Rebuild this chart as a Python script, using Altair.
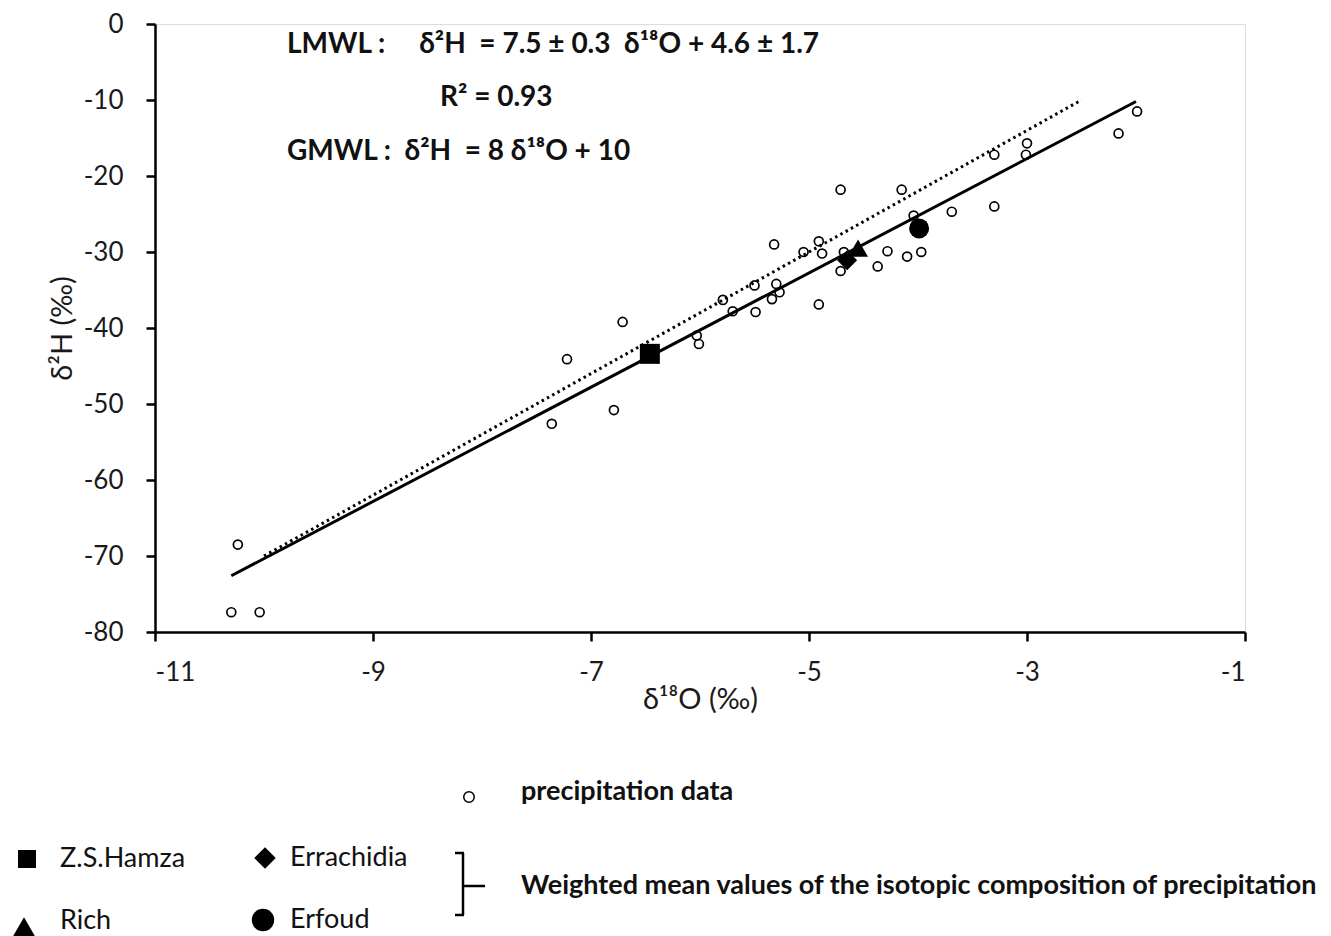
import altair as alt
import pandas as pd

FONT = "Lato"
NB = "\u00a0"

# precipitation samples (delta18O, delta2H)
precip_x = [-10.24, -10.30, -10.04, -7.36, -7.22, -6.79, -6.71, -6.03, -6.01, -5.79,
            -5.70, -5.49, -5.50, -5.32, -5.30, -5.27, -5.34, -5.05, -4.91, -4.88,
            -4.91, -4.71, -4.68, -4.71, -4.37, -4.28, -4.15, -4.10, -4.04, -3.97,
            -3.69, -3.30, -3.30, -3.00, -3.01, -2.16, -1.99]
precip_y = [-68.5, -77.4, -77.4, -52.6, -44.1, -50.8, -39.2, -41.0, -42.1, -36.3,
            -37.8, -37.9, -34.4, -29.0, -34.2, -35.3, -36.2, -30.0, -28.6, -30.2,
            -36.9, -21.8, -30.0, -32.5, -31.9, -29.9, -21.8, -30.6, -25.2, -30.0,
            -24.7, -17.2, -24.0, -15.7, -17.2, -14.4, -11.5]

# weighted means per station
site_names = ["Z.S.Hamza", "Errachidia", "Rich", "Erfoud"]
site_x = [-6.46, -4.65, -4.55, -3.99]
site_y = [-43.4, -31.1, -29.5, -26.9]
site_shapes = ["square", "diamond", "triangle-up", "circle"]

# meteoric water lines (end points)
lmwl_x = [-10.3, -2.0]
lmwl_y = [-72.6, -10.2]
gmwl_x = [-10.0, -2.5]
gmwl_y = [-70.0, -10.0]

x_ticks = [-11, -9, -7, -5, -3, -1]
y_ticks = [0, -10, -20, -30, -40, -50, -60, -70, -80]

ann_lmwl = "LMWL :     δ²H  = 7.5 ± 0.3  δ¹⁸O + 4.6 ± 1.7".replace(" ", NB)
ann_r2 = "R² = 0.93".replace(" ", NB)
ann_gmwl = "GMWL :  δ²H  = 8 δ¹⁸O + 10".replace(" ", NB)
legend_precip = "precipitation data"
legend_weighted = "Weighted mean values of the isotopic composition of precipitation"

xs = alt.Scale(domain=[-11, -1], nice=False, zero=False)
ys = alt.Scale(domain=[-80, 0], nice=False, zero=False)

axis_common = dict(grid=False, domainColor="black", domainWidth=2.5, tickColor="black",
                   tickWidth=2.5, tickSize=9, labelFont=FONT, labelFontSize=26,
                   labelColor="#1a1a1a", titleFont=FONT, titleFontSize=29,
                   titleFontWeight="normal", titleColor="#1a1a1a",
                   labelExpr="'' + datum.value")

xaxis = alt.Axis(values=x_ticks, title="δ¹⁸O (‰)", labelPadding=18, titlePadding=0,
                 **axis_common)
yaxis = alt.Axis(values=y_ticks, title="δ²H (‰)", labelPadding=23, titlePadding=6,
                 **axis_common)

precip_df = pd.DataFrame({"x": precip_x, "y": precip_y})
site_df = pd.DataFrame({"x": site_x, "y": site_y, "site": site_names, "shape": site_shapes})
lmwl_df = pd.DataFrame({"x": lmwl_x, "y": lmwl_y})
gmwl_df = pd.DataFrame({"x": gmwl_x, "y": gmwl_y})

lmwl = alt.Chart(lmwl_df).mark_line(color="black", strokeWidth=3).encode(
    x=alt.X("x:Q", scale=xs, axis=xaxis),
    y=alt.Y("y:Q", scale=ys, axis=yaxis),
)
gmwl = alt.Chart(gmwl_df).mark_line(color="black", strokeWidth=3, strokeDash=[2.5, 3.5]).encode(
    x=alt.X("x:Q", scale=xs), y=alt.Y("y:Q", scale=ys)
)
precip = alt.Chart(precip_df).mark_point(shape="circle", size=80, filled=False, color="black",
                                         strokeWidth=1.7, opacity=1).encode(
    x=alt.X("x:Q", scale=xs), y=alt.Y("y:Q", scale=ys)
)
sites = alt.Chart(site_df).mark_point(filled=True, color="black", opacity=1).encode(
    x=alt.X("x:Q", scale=xs), y=alt.Y("y:Q", scale=ys),
    shape=alt.Shape("shape:N", scale=None),
    size=alt.value(400),
)

one = pd.DataFrame({"k": [0]})


def txt(s, px, py, size=27, weight="normal"):
    return alt.Chart(one).mark_text(text=s, fontSize=size, fontWeight=weight, align="left",
                                    baseline="middle", font=FONT, color="#111111").encode(
        x=alt.value(px), y=alt.value(py))


def sym(shape, px, py, size, filled=True):
    return alt.Chart(one).mark_point(shape=shape, size=size, filled=filled, color="black",
                                     opacity=1, strokeWidth=1.5).encode(
        x=alt.value(px), y=alt.value(py))


def rule(x1, y1, x2, y2):
    return alt.Chart(one).mark_rule(color="black", strokeWidth=2.5).encode(
        x=alt.value(x1), y=alt.value(y1), x2=alt.value(x2), y2=alt.value(y2))


layers = [lmwl, gmwl, precip, sites,
          txt(ann_lmwl, 132, 21, 28, "bold"),
          txt(ann_r2, 285, 74, 28, "bold"),
          txt(ann_gmwl, 132, 128, 28, "bold"),
          sym("circle", 314, 773, 110, filled=False),
          txt(legend_precip, 366, 768, 27, "bold"),
          sym("square", -128, 835, 324),
          txt(site_names[0], -95, 835, 27),
          sym("triangle-up", -131, 904, 620),
          txt(site_names[2], -95, 897, 27),
          sym("diamond", 110, 834, 460),
          txt(site_names[1], 135, 834, 27),
          sym("circle", 108, 896, 500),
          txt(site_names[3], 135, 896, 27),
          rule(308, 829, 308, 891),
          rule(300, 829, 309, 829),
          rule(300, 891, 309, 891),
          rule(308, 862, 330, 862),
          txt(legend_weighted, 366, 862, 27, "bold"),
          ]

chart = alt.layer(*layers).properties(
    width=1090, height=608,
    autosize=alt.AutoSizeParams(type="none"),
    padding={"left": 147, "top": 16, "right": 76, "bottom": 306},
).configure_view(stroke=None).configure(background="white")

chart.save("out.html", embed_options={"renderer": "svg", "actions": False})
